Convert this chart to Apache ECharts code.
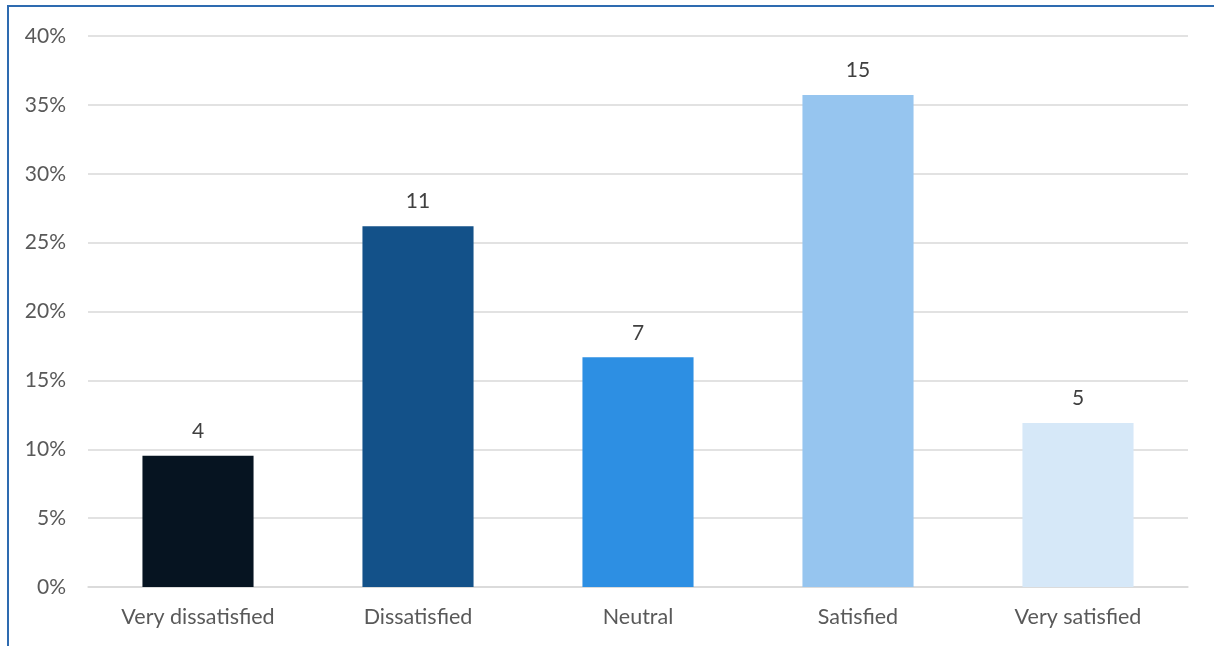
<!DOCTYPE html>
<html><head><meta charset="utf-8">
<script src="https://cdn.jsdelivr.net/npm/echarts@6/dist/echarts.min.js"></script>
<style>
html,body{margin:0;padding:0;background:#fff;}
#frame{position:absolute;left:7px;top:5px;width:1207px;height:641px;border-left:2px solid #2e6bb0;border-top:2px solid #2e6bb0;box-sizing:border-box;}
#chart{position:absolute;left:0;top:0;width:1214px;height:646px;}
</style></head>
<body>
<div id="frame"></div>
<div id="chart"></div>
<script>
const categories = ['Very dissatisfied','Dissatisfied','Neutral','Satisfied','Very satisfied'];
const counts = [4, 11, 7, 15, 5];
const percents = [9.52, 26.19, 16.67, 35.71, 11.90];
const colors = ['#061421','#135189','#2d8fe3','#96c5ef','#d6e8f8'];
const yTicks = [0,5,10,15,20,25,30,35,40];

const chart = echarts.init(document.getElementById('chart'));
const font = 'Lato, "Open Sans", sans-serif';
chart.setOption({
  animation:false,
  grid:{left:88,right:26,top:36,bottom:59,containLabel:false},
  xAxis:{type:'category',data:categories,
    axisLine:{lineStyle:{color:'#d9d9d9',width:1.5}},
    axisTick:{show:false},
    axisLabel:{color:'#595959',fontSize:21.5,fontFamily:font,margin:19}},
  yAxis:{type:'value',min:0,max:40,interval:5,
    axisLine:{show:false},axisTick:{show:false},
    splitLine:{lineStyle:{color:'#d9d9d9',width:1.5}},
    axisLabel:{color:'#595959',fontSize:21,fontFamily:font,margin:22,
      formatter:v=>yTicks.includes(v)?v+'%':''}},
  series:[{type:'bar',barWidth:'50.5%',
    data:percents.map((p,i)=>({value:p,itemStyle:{color:colors[i]}})),
    label:{show:true,position:'top',distance:14,color:'#404040',fontSize:21,fontFamily:font,
      formatter:p=>counts[p.dataIndex]}}]
});
</script>
</body></html>
